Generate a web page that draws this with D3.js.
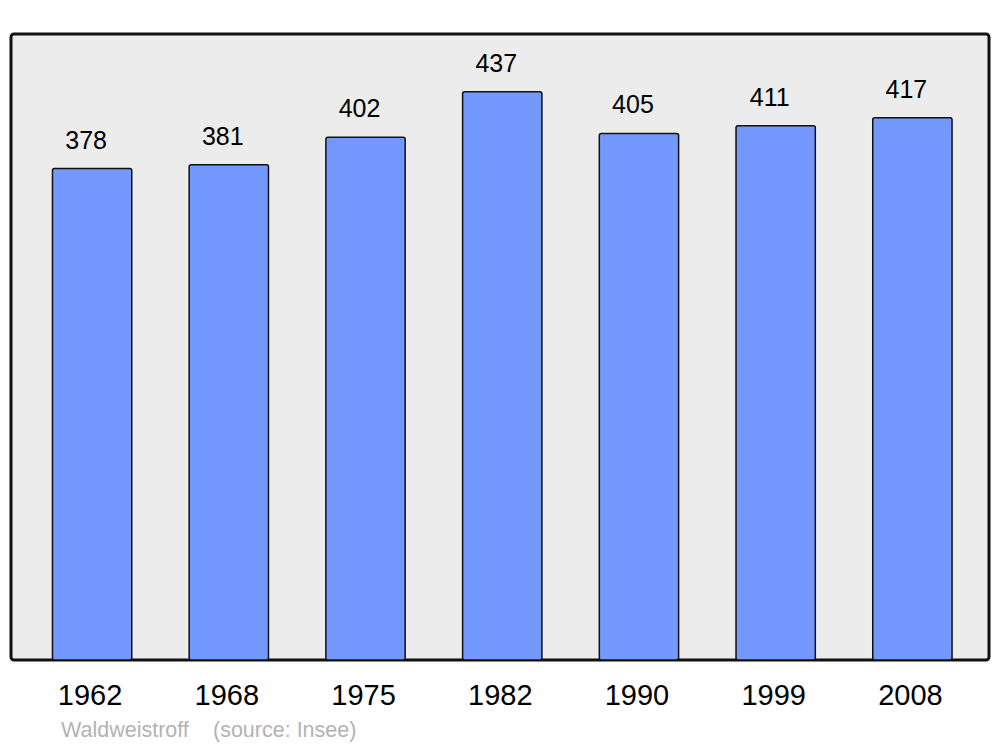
<!DOCTYPE html>
<html>
<head>
<meta charset="utf-8">
<script src="https://cdn.jsdelivr.net/npm/d3@7"></script>
<style>
  body { margin: 0; background: #fff; }
  text { font-family: "Liberation Sans", Arial, sans-serif; }
</style>
</head>
<body>
<div id="mainContainer"></div>
<script>
const years = ['1962', '1968', '1975', '1982', '1990', '1999', '2008'];
const population = [378, 381, 402, 437, 405, 411, 417];
const commune = 'Waldweistroff';
const source = '(source: Insee)';

const width = 1000;
const height = 747;
const panel = { left: 11, right: 989, top: 34, bottom: 660 };

const svg = d3.select('#mainContainer')
  .append('svg')
  .attr('width', width)
  .attr('height', height)
  .attr('viewBox', [0, 0, width, height]);

// panel background
svg.append('rect')
  .attr('x', panel.left)
  .attr('y', panel.top)
  .attr('width', panel.right - panel.left)
  .attr('height', panel.bottom - panel.top)
  .attr('rx', 3)
  .attr('fill', '#ececec')
  .attr('stroke', '#111')
  .attr('stroke-width', 3);

const x = d3.scaleBand()
  .domain(years)
  .range([13.5, 991])
  .paddingInner(0.42)
  .paddingOuter(0.285);

const y = d3.scaleLinear()
  .domain([0, 481.5])
  .range([panel.bottom, panel.top]);

svg.append('g')
  .selectAll('rect')
  .data(years)
  .join('rect')
    .attr('x', d => x(d))
    .attr('y', (d, i) => y(population[i]))
    .attr('width', x.bandwidth())
    .attr('height', (d, i) => y(0) - y(population[i]))
    .attr('rx', 2)
    .attr('fill', '#7399ff')
    .attr('stroke', '#111')
    .attr('stroke-width', 1.5);

// value labels
svg.append('g')
  .selectAll('text')
  .data(years)
  .join('text')
    .attr('x', d => x(d) + x.bandwidth() / 2 - 6)
    .attr('y', (d, i) => y(population[i]) - 20)
    .attr('text-anchor', 'middle')
    .attr('font-size', '25px')
    .attr('fill', '#000')
    .text((d, i) => population[i]);

// year axis
const axis = svg.append('g')
  .attr('transform', `translate(-2, ${panel.bottom})`)
  .call(d3.axisBottom(x).tickSize(0).tickPadding(0));
axis.select('.domain').remove();
axis.selectAll('text')
  .attr('y', 45)
  .attr('dy', 0)
  .attr('font-size', '29px')
  .attr('font-family', '"Liberation Sans", Arial, sans-serif')
  .attr('fill', '#000');

// footer
const footer = svg.append('text')
  .attr('y', 737)
  .attr('font-size', '21.5px')
  .attr('fill', '#b3b3b3');
footer.append('tspan').attr('x', 61).text(commune);
footer.append('tspan').attr('x', 213).text(source);
</script>
</body>
</html>
